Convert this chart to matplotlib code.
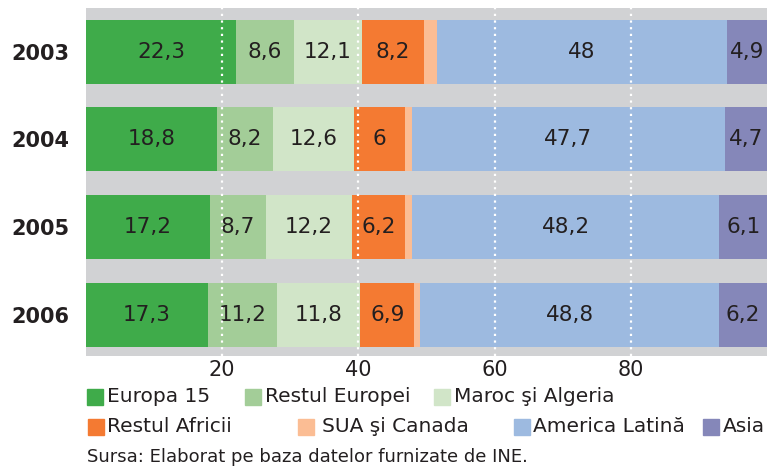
import matplotlib
matplotlib.use("Agg")
import matplotlib.pyplot as plt
from matplotlib.patches import Rectangle

# Date (procente)
years = ["2003", "2004", "2005", "2006"]
groups = ["Europa 15", "Restul Europei", "Maroc şi Algeria", "Restul Africii",
          "SUA şi Canada", "America Latină", "Asia"]
colors = ["#3fab4a", "#a3cd98", "#d1e5c8", "#f47a32", "#fbbd94", "#9dbae0", "#8587b9"]

# latimea segmentelor, asa cum apar desenate
europa15 = [22.0, 19.2, 18.2, 17.9]
rest_europa = [8.5, 8.3, 8.2, 10.1]
maroc_algeria = [10.0, 11.9, 12.7, 12.3]
rest_africa = [9.1, 7.5, 7.8, 7.9]
sua_canada = [2.0, 1.0, 1.0, 0.9]
america_latina = [42.5, 45.9, 45.1, 43.9]
asia = [5.9, 6.2, 7.0, 7.0]

# etichetele scrise pe bare (None = fara eticheta)
lbl_europa15 = ["22,3", "18,8", "17,2", "17,3"]
lbl_rest_europa = ["8,6", "8,2", "8,7", "11,2"]
lbl_maroc = ["12,1", "12,6", "12,2", "11,8"]
lbl_rest_africa = ["8,2", "6", "6,2", "6,9"]
lbl_sua = [None, None, None, None]
lbl_america = ["48", "47,7", "48,2", "48,8"]
lbl_asia = ["4,9", "4,7", "6,1", "6,2"]

series = [europa15, rest_europa, maroc_algeria, rest_africa, sua_canada, america_latina, asia]
labels = [lbl_europa15, lbl_rest_europa, lbl_maroc, lbl_rest_africa, lbl_sua, lbl_america, lbl_asia]

plt.rcParams["font.family"] = ["DejaVu Sans"]
txt_color = "#231f20"

W, H = 767, 466
fig = plt.figure(figsize=(W / 100, H / 100), dpi=100)
ax = fig.add_axes([86 / W, 1 - 356 / H, 1 - 86 / W, 348 / H])
ax.set_facecolor("#d1d2d4")

ypos = list(range(len(years)))
left = [0.0] * len(years)
for vals, lbls, col in zip(series, labels, colors):
    ax.barh(ypos, vals, left=left, height=0.73, color=col, zorder=2)
    for i, (v, l) in enumerate(zip(vals, lbls)):
        if l:
            ax.text(left[i] + v / 2, i, l, ha="center", va="center",
                    fontsize=15.5, color=txt_color, zorder=3)
    left = [a + b for a, b in zip(left, vals)]

ax.set_xlim(0, 100)
ax.set_ylim(3.47, -0.5)
ax.set_xticks([20, 40, 60, 80])
ax.set_yticks(ypos)
ax.set_yticklabels(years, fontweight="bold")
ax.tick_params(axis="y", length=0, pad=12, labelsize=15, labelcolor=txt_color)
ax.tick_params(axis="x", length=0, pad=3, labelsize=15, labelcolor=txt_color)
for s in ax.spines.values():
    s.set_visible(False)
for x in [20, 40, 60, 80]:
    ax.axvline(x, color="white", linestyle=(0, (1, 2)), linewidth=1.6, zorder=4)

# legenda desenata manual pe doua randuri: (y, [(x patrat, x text, index)])
leg_rows = [(397, [(87, 107, 0), (245, 265, 1), (434, 454, 2)]),
            (427, [(88, 107, 3), (298, 322, 4), (514, 533, 5), (703, 723, 6)])]
for yy, items in leg_rows:
    for xs, xt, k in items:
        fig.add_artist(Rectangle((xs / W, 1 - (yy + 8) / H), 16 / W, 16 / H,
                                 transform=fig.transFigure, color=colors[k]))
        fig.text(xt / W, 1 - yy / H, groups[k], fontsize=14.5,
                 color=txt_color, va="center", ha="left")

fig.text(87 / W, 1 - 457 / H, "Sursa: Elaborat pe baza datelor furnizate de INE.",
         fontsize=13, color=txt_color, va="center", ha="left")

fig.savefig("out.png", dpi=100)
